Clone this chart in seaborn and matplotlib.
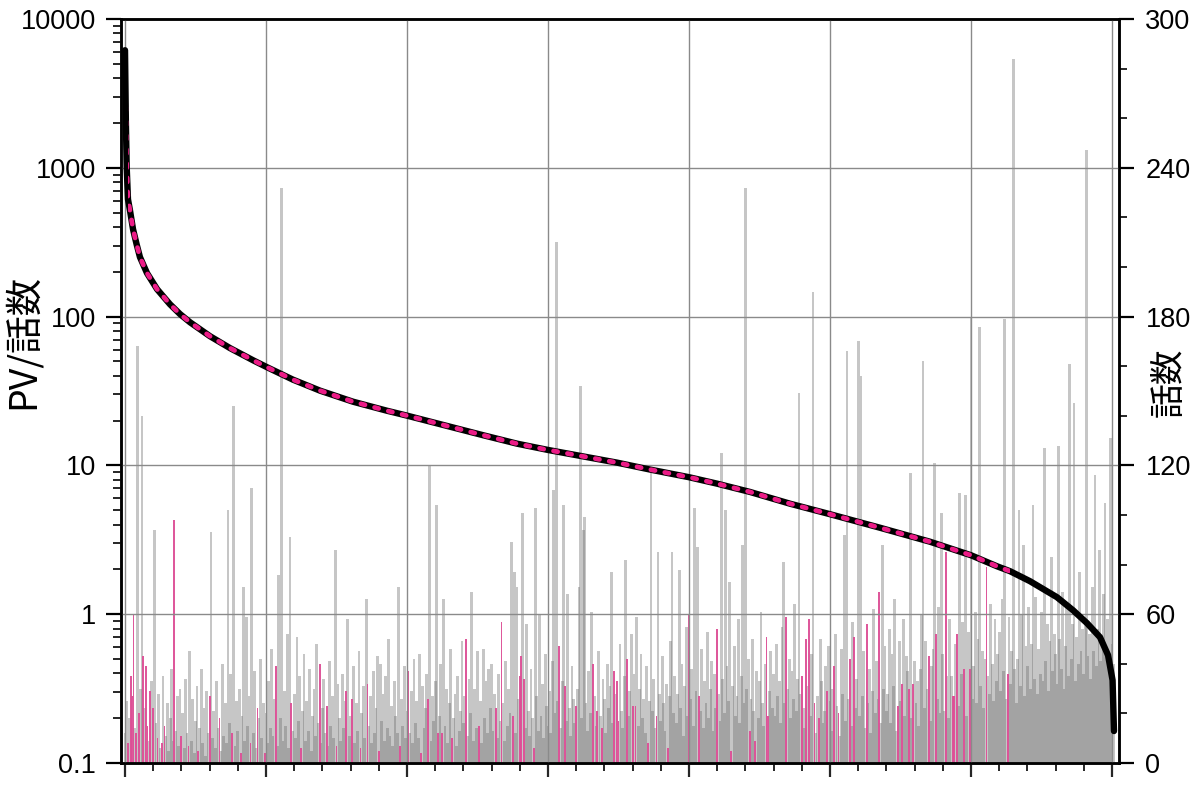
import matplotlib
matplotlib.use("Agg")
import matplotlib.pyplot as plt
import seaborn as sns
import numpy as np
from matplotlib.ticker import FixedLocator, LogLocator, NullFormatter, MultipleLocator
from matplotlib.patches import Rectangle

# ---------------- data ----------------
# PV per episode, items sorted by rank
curve_rank = [0, 0.6, 1.2, 2.1, 3.5, 5.7, 8.2, 10.6, 15.6, 22.7, 31.9, 39, 46.1, 60.3,
              74.5, 90.8, 100.7, 119.1, 138.3, 161.7, 185.8, 200, 230.5, 253.9, 278, 300,
              324.8, 348.9, 372.3, 400, 419.9, 443.3, 471.6, 500, 535.5, 570.9, 600,
              618.4, 627.7, 641.8, 661, 672.3, 682.3, 691.5, 697.2, 700.4, 701.4]
curve_value = [6166, 2089, 1009, 615, 519, 386, 307, 251, 196, 153, 121, 104, 91.6, 73.8,
               61.4, 50.9, 45.7, 37.7, 31.8, 26.8, 23.3, 21.6, 18.2, 15.96, 14.0, 12.7,
               11.5, 10.44, 9.38, 8.33, 7.54, 6.63, 5.53, 4.70, 3.81, 3.07, 2.49,
               2.10, 1.945, 1.667, 1.30, 1.064, 0.87, 0.70, 0.53, 0.36, 0.164]

# number of episodes of each item (same rank order), 20 items per row
episodes = [
    12, 25, 8, 18, 35, 27, 60, 14, 12, 168, 20, 30, 140, 43, 22, 39, 15, 9, 29, 33,
    22, 94, 16, 10, 28, 6, 8, 35, 15, 11, 24, 5, 18, 38, 9, 98, 13, 27, 7, 30,
    11, 20, 6, 34, 12, 7, 45, 9, 26, 4, 17, 31, 5, 14, 38, 8, 22, 3, 29, 12,
    27, 93, 10, 21, 6, 33, 14, 18, 5, 40, 11, 24, 8, 102, 16, 36, 12, 144, 7, 25,
    13, 30, 4, 19, 71, 9, 59, 15, 27, 8, 111, 12, 37, 6, 22, 18, 42, 10, 24, 4,
    20, 8, 33, 14, 46, 11, 26, 39, 7, 76, 18, 232, 9, 29, 15, 52, 6, 91, 24, 13,
    28, 10, 51, 17, 35, 6, 21, 44, 9, 25, 13, 38, 5, 19, 30, 11, 48, 16, 40, 8,
    22, 34, 12, 23, 7, 41, 15, 27, 10, 86, 7, 32, 18, 9, 36, 14, 25, 29, 58, 11,
    19, 26, 39, 8, 24, 13, 45, 6, 20, 31, 10, 66, 32, 15, 27, 8, 37, 12, 22, 43,
    5, 40, 17, 28, 9, 35, 14, 50, 11, 23, 7, 33, 19, 12, 71, 7, 26, 15, 39, 10,
    21, 37, 12, 29, 8, 42, 16, 25, 10, 44, 4, 31, 14, 22, 36, 26, 120, 9, 27, 17,
    33, 104, 12, 19, 40, 12, 66, 15, 30, 8, 24, 46, 10, 18, 28, 7, 35, 13, 21, 49,
    16, 27, 50, 11, 34, 20, 69, 9, 30, 14, 45, 15, 25, 8, 46, 18, 33, 12, 38, 22,
    40, 13, 28, 22, 10, 36, 17, 57, 24, 9, 41, 15, 30, 20, 89, 19, 77, 12, 71, 26,
    35, 43, 101, 34, 14, 56, 21, 11, 38, 18, 6, 103, 27, 13, 60, 19, 32, 10, 44, 23,
    15, 29, 12, 41, 110, 20, 210, 25, 47, 14, 33, 104, 31, 17, 68, 22, 11, 39, 26, 16,
    23, 30, 71, 152, 18, 94, 99, 24, 13, 37, 20, 61, 40, 27, 15, 21, 45, 19, 14, 34,
    26, 12, 40, 22, 31, 77, 16, 37, 28, 33, 17, 48, 21, 14, 35, 82, 42, 19, 29, 52,
    23, 36, 23, 59, 15, 30, 44, 18, 26, 12, 39, 8, 25, 117, 21, 34, 14, 19, 85, 28,
    17, 43, 24, 13, 32, 6, 27, 49, 85, 20, 35, 16, 28, 78, 22, 40, 11, 31, 55, 19,
    60, 26, 38, 15, 103, 29, 87, 27, 21, 46, 14, 33, 24, 53, 18, 30, 41, 13, 36, 22,
    54, 28, 17, 125, 34, 20, 102, 39, 25, 73, 5, 31, 47, 19, 27, 58, 16, 35, 88, 24,
    232, 30, 42, 13, 26, 50, 21, 9, 37, 18, 33, 61, 24, 15, 40, 51, 19, 29, 45, 22,
    36, 19, 48, 27, 33, 16, 55, 81, 24, 59, 30, 42, 18, 37, 26, 64, 21, 34, 149, 28,
    35, 22, 14, 50, 31, 58, 19, 44, 190, 24, 12, 27, 18, 50, 33, 16, 21, 39, 29, 47,
    25, 13, 30, 39, 52, 23, 20, 11, 46, 28, 92, 17, 166, 26, 42, 15, 57, 51, 22, 34,
    170, 19, 156, 27, 45, 14, 56, 24, 38, 12, 29, 62, 20, 41, 26, 69, 16, 88, 30, 47,
    21, 28, 54, 16, 44, 31, 66, 13, 23, 49, 25, 32, 58, 19, 43, 37, 30, 117, 18, 32,
    41, 24, 33, 15, 38, 60, 162, 22, 49, 30, 43, 17, 39, 46, 121, 52, 26, 63, 20, 101,
    44, 21, 85, 35, 18, 58, 35, 27, 27, 48, 52, 23, 109, 36, 57, 38, 108, 19, 53, 38,
    180, 26, 39, 61, 24, 50, 176, 31, 45, 22, 42, 79, 35, 28, 64, 40, 25, 58, 33, 44,
    53, 29, 66, 37, 179, 26, 36, 59, 32, 45, 284, 38, 24, 42, 102, 31, 60, 88, 27, 47,
    39, 63, 30, 48, 104, 34, 67, 28, 46, 36, 61, 33, 127, 41, 56, 29, 49, 83, 37, 52,
    44, 32, 128, 50, 38, 69, 30, 47, 63, 35, 161, 42, 56, 145, 33, 51, 40, 77, 45, 54,
    36, 57, 247, 43, 52, 34, 71, 45, 116, 39, 54, 86, 41, 48, 68, 105, 46, 58, 37, 131,
    48, 40,
]

# ranks of the highlighted (pink) items
pink_rank = [2, 4, 5, 6, 8, 10, 13, 15, 16, 18, 20, 23, 26, 28, 35, 40, 45, 52, 60, 67,
             76, 82, 89, 94, 99, 107, 118, 125, 138, 143, 150, 157, 161, 167, 172, 180,
             195, 201, 210, 215, 222, 225, 232, 242, 251, 263, 267, 275, 280, 281, 283,
             290, 308, 312, 320, 332, 335, 338, 347, 349, 350, 356, 360, 362, 371, 377,
             385, 400, 407, 420, 430, 443, 447, 455, 456, 469, 480, 483, 485, 489, 492,
             498, 503, 506, 514, 517, 526, 535, 548, 551, 556, 559, 570, 575, 582, 587,
             588, 590, 595, 599, 611, 626]
pink_first_rank = 1.8
pink_last_rank = 628

left_ticks = [0.1, 1, 10, 100, 1000, 10000]
left_labels = ["0.1", "1", "10", "100", "1000", "10000"]
right_ticks = [0, 60, 120, 180, 240, 300]
left_title = "PV/話数"
right_title = "話数"

# ---------------- styling ----------------
sns.set_theme(style="white")
plt.rcParams['font.family'] = ['Liberation Sans', 'DejaVu Sans']
jp_font = ['Noto Sans CJK JP', 'DejaVu Sans']

PINK_LINE = '#ec1c87'
PINK_BAR = '#dd4f96'
GRAY_BAR = '#6e6e6e'
GRID = '#8a8a8a'

fig = plt.figure(figsize=(12, 7.88), dpi=100)
ax = fig.add_axes([121 / 1200, 1 - 763 / 788, 998 / 1200, 744 / 788])
ax2 = ax.twinx()
ax.set_zorder(ax2.get_zorder() + 1)
ax.patch.set_visible(False)

# ---- bars: number of episodes (right axis) ----
ranks = np.arange(len(episodes))
eps = np.array(episodes, dtype=float)
is_pink = np.isin(ranks, pink_rank)
ax2.bar(ranks[~is_pink], eps[~is_pink], width=2.0, color=GRAY_BAR, alpha=0.39,
        linewidth=0)
ax2.bar(ranks[is_pink], eps[is_pink], width=1.3, color=PINK_BAR, alpha=0.95,
        linewidth=0)

# ---- curve: PV per episode (left log axis) ----
sns.lineplot(x=curve_rank, y=curve_value, ax=ax, color='black', lw=4.6,
             estimator=None, sort=False, solid_capstyle='round',
             solid_joinstyle='round')
sns.lineplot(x=curve_rank, y=curve_value, ax=ax, color=PINK_LINE, lw=3.4,
             estimator=None, sort=False, linestyle=(0, (0.9, 2.1)),
             dash_capstyle='round')
pink_line = ax.lines[-1]
clip = Rectangle((pink_first_rank, 1e-3), pink_last_rank - pink_first_rank, 1e6,
                 transform=ax.transData)
pink_line.set_clip_path(clip)

# ---- axes ----
ax.set_yscale('log')
ax.set_xlim(-2.84, 704.96)
ax.set_ylim(0.1, 10000)
ax2.set_ylim(0, 300)

ax.xaxis.set_major_locator(FixedLocator(list(range(0, 701, 100))))
ax.xaxis.set_minor_locator(FixedLocator(list(range(0, 701, 20))))
ax.set_xticklabels([])

ax.yaxis.set_major_locator(FixedLocator(left_ticks))
ax.set_yticklabels(left_labels)
ax.yaxis.set_minor_locator(LogLocator(base=10, subs=np.arange(2, 10)))
ax.yaxis.set_minor_formatter(NullFormatter())

ax2.yaxis.set_major_locator(FixedLocator(right_ticks))
ax2.yaxis.set_minor_locator(MultipleLocator(20))

ax.grid(True, which='major', axis='both', color=GRID, lw=1.0)
ax.set_axisbelow(True)
ax2.grid(False)

for a in (ax, ax2):
    for s in a.spines.values():
        s.set_color('black')
        s.set_linewidth(1.8)
        s.set_visible(True)

ax.tick_params(axis='y', which='major', direction='out', length=11, width=1.6,
               labelsize=19.5, pad=7, colors='black', left=True)
ax.tick_params(axis='y', which='minor', direction='out', length=6, width=1.4, left=True)
ax.tick_params(axis='x', which='major', direction='out', length=10, width=1.6, bottom=True)
ax.tick_params(axis='x', which='minor', direction='out', length=5.5, width=1.4, bottom=True)
ax2.tick_params(axis='y', which='major', direction='out', length=11, width=1.6,
                labelsize=19.5, pad=8, colors='black', right=True)
ax2.tick_params(axis='y', which='minor', direction='out', length=6, width=1.4, right=True)

ax.set_xlabel('')
ax.set_ylabel(left_title, fontsize=27, family=jp_font, color='black')
ax.yaxis.set_label_coords(-0.078, 0.567)
ax2.set_ylabel(right_title, fontsize=25, family=jp_font, color='black')
ax2.yaxis.set_label_coords(1.033, 0.512)

fig.savefig('out.png', dpi=100)
